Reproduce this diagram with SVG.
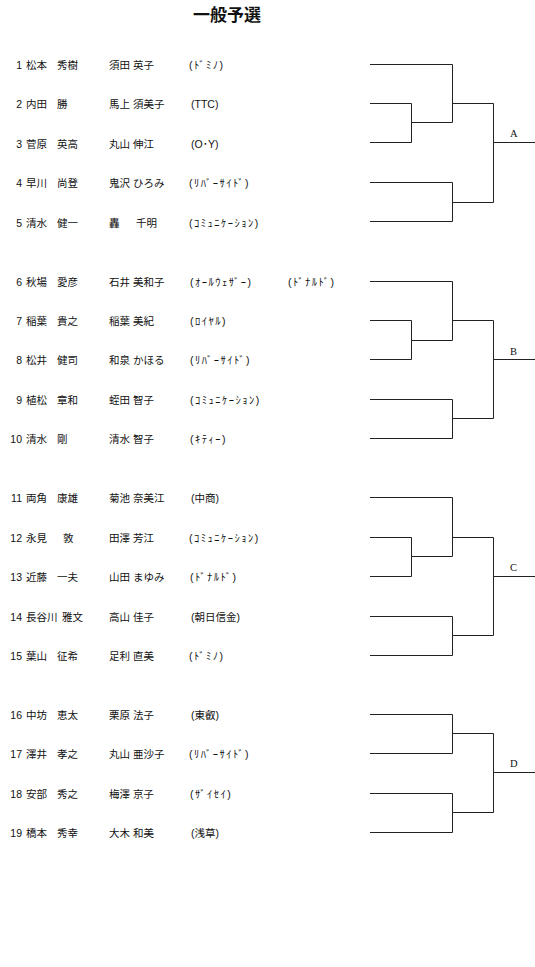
<svg xmlns="http://www.w3.org/2000/svg" width="535" height="967" viewBox="0 0 535 967">
<style>
text{font-family:"Liberation Sans","Noto Sans CJK JP",sans-serif;font-size:10.5px;fill:#111}
.n{text-anchor:end}
.hw{letter-spacing:1.5px}
.t{font-family:"Noto Sans CJK JP",sans-serif;font-size:17px;font-weight:bold}
.lb{font-family:"Liberation Serif",serif;font-size:10.5px}
.br{fill:none;stroke:#222;stroke-width:1}
</style>
<rect width="535" height="967" fill="#fff"/>
<g id="title"><text class="t" x="193" y="21">一般予選</text></g>

<g id="p1"><text class="n" x="22" y="69">1</text><text x="26" y="69">松本</text><text x="57" y="69">秀樹</text><text x="109" y="69">須田</text><text x="133" y="69">英子</text><text class="hw" x="189" y="69">(ﾄﾞﾐﾉ)</text></g>
<g id="p2"><text class="n" x="22" y="108">2</text><text x="26" y="108">内田</text><text x="57" y="108">勝</text><text x="109" y="108">馬上</text><text x="133" y="108">須美子</text><text x="191" y="108">(TTC)</text></g>
<g id="p3"><text class="n" x="22" y="148">3</text><text x="26" y="148">菅原</text><text x="57" y="148">英高</text><text x="109" y="148">丸山</text><text x="133" y="148">伸江</text><text x="191" y="148">(O･Y)</text></g>
<g id="p4"><text class="n" x="22" y="187">4</text><text x="26" y="187">早川</text><text x="57" y="187">尚登</text><text x="109" y="187">鬼沢</text><text x="133" y="187">ひろみ</text><text class="hw" x="189" y="187">(ﾘﾊﾞｰｻｲﾄﾞ)</text></g>
<g id="p5"><text class="n" x="22" y="227">5</text><text x="26" y="227">清水</text><text x="57" y="227">健一</text><text x="109" y="227">轟</text><text x="136" y="227">千明</text><text class="hw" x="189" y="227">(ｺﾐｭﾆｹｰｼｮﾝ)</text></g>

<g id="p6"><text class="n" x="22" y="286">6</text><text x="26" y="286">秋場</text><text x="57" y="286">愛彦</text><text x="109" y="286">石井</text><text x="133" y="286">美和子</text><text class="hw" x="190" y="286">(ｵｰﾙｳｪｻﾞｰ)</text><text class="hw" x="288" y="286">(ﾄﾞﾅﾙﾄﾞ)</text></g>
<g id="p7"><text class="n" x="22" y="325">7</text><text x="26" y="325">稲葉</text><text x="57" y="325">貴之</text><text x="109" y="325">稲葉</text><text x="133" y="325">美紀</text><text class="hw" x="190" y="325">(ﾛｲﾔﾙ)</text></g>
<g id="p8"><text class="n" x="22" y="364">8</text><text x="26" y="364">松井</text><text x="57" y="364">健司</text><text x="109" y="364">和泉</text><text x="133" y="364">かほる</text><text class="hw" x="190" y="364">(ﾘﾊﾞｰｻｲﾄﾞ)</text></g>
<g id="p9"><text class="n" x="22" y="404">9</text><text x="26" y="404">植松</text><text x="57" y="404">章和</text><text x="109" y="404">蛭田</text><text x="133" y="404">智子</text><text class="hw" x="190" y="404">(ｺﾐｭﾆｹｰｼｮﾝ)</text></g>
<g id="p10"><text class="n" x="22" y="443">10</text><text x="26" y="443">清水</text><text x="57" y="443">剛</text><text x="109" y="443">清水</text><text x="133" y="443">智子</text><text class="hw" x="190" y="443">(ｷﾃｨｰ)</text></g>

<g id="p11"><text class="n" x="22" y="502">11</text><text x="26" y="502">両角</text><text x="57" y="502">康雄</text><text x="109" y="502">菊池</text><text x="133" y="502">奈美江</text><text x="191" y="502">(中商)</text></g>
<g id="p12"><text class="n" x="22" y="542">12</text><text x="26" y="542">永見</text><text x="63" y="542">敦</text><text x="109" y="542">田澤</text><text x="133" y="542">芳江</text><text class="hw" x="189" y="542">(ｺﾐｭﾆｹｰｼｮﾝ)</text></g>
<g id="p13"><text class="n" x="22" y="581">13</text><text x="26" y="581">近藤</text><text x="57" y="581">一夫</text><text x="109" y="581">山田</text><text x="133" y="581">まゆみ</text><text class="hw" x="190" y="581">(ﾄﾞﾅﾙﾄﾞ)</text></g>
<g id="p14"><text class="n" x="22" y="621">14</text><text x="26" y="621">長谷川</text><text x="62" y="621">雅文</text><text x="109" y="621">高山</text><text x="133" y="621">佳子</text><text x="191" y="621">(朝日信金)</text></g>
<g id="p15"><text class="n" x="22" y="660">15</text><text x="26" y="660">葉山</text><text x="57" y="660">征希</text><text x="109" y="660">足利</text><text x="133" y="660">直美</text><text class="hw" x="189" y="660">(ﾄﾞﾐﾉ)</text></g>

<g id="p16"><text class="n" x="22" y="719">16</text><text x="26" y="719">中坊</text><text x="57" y="719">恵太</text><text x="109" y="719">栗原</text><text x="133" y="719">法子</text><text x="191" y="719">(東叡)</text></g>
<g id="p17"><text class="n" x="22" y="758">17</text><text x="26" y="758">澤井</text><text x="57" y="758">孝之</text><text x="109" y="758">丸山</text><text x="133" y="758">亜沙子</text><text class="hw" x="189" y="758">(ﾘﾊﾞｰｻｲﾄﾞ)</text></g>
<g id="p18"><text class="n" x="22" y="798">18</text><text x="26" y="798">安部</text><text x="57" y="798">秀之</text><text x="109" y="798">梅澤</text><text x="133" y="798">京子</text><text class="hw" x="190" y="798">(ｻﾞｲｾｲ)</text></g>
<g id="p19"><text class="n" x="22" y="837">19</text><text x="26" y="837">橋本</text><text x="57" y="837">秀幸</text><text x="109" y="837">大木</text><text x="133" y="837">和美</text><text x="191" y="837">(浅草)</text></g>

<g id="connectors">
<path class="br" d="M370,64.5H452.5V122.5M370,103.5H411.5V142.5H370M411.5,122.5H452.5M452.5,103.5H493.5M370,182.5H452.5V221.5H370M452.5,202.5H493.5M493.5,103.5V202.5M493.5,142.5H535"/>
<path class="br" d="M370,281.5H452.5V340.5M370,320.5H411.5V359.5H370M411.5,340.5H452.5M452.5,320.5H493.5M370,399.5H452.5V438.5H370M452.5,418.5H493.5M493.5,320.5V418.5M493.5,359.5H535"/>
<path class="br" d="M370,497.5H452.5V556.5M370,537.5H411.5V576.5H370M411.5,556.5H452.5M452.5,537.5H493.5M370,616.5H452.5V655.5H370M452.5,635.5H493.5M493.5,537.5V635.5M493.5,576.5H535"/>
<path class="br" d="M370,714.5H452.5V753.5H370M452.5,733.5H493.5M370,793.5H452.5V832.5H370M452.5,812.5H493.5M493.5,733.5V812.5M493.5,772.5H535"/>
</g>

<g id="lA"><text class="lb" x="510" y="137">A</text></g>
<g id="lB"><text class="lb" x="510" y="355">B</text></g>
<g id="lC"><text class="lb" x="510" y="571">C</text></g>
<g id="lD"><text class="lb" x="510" y="767">D</text></g>
</svg>
